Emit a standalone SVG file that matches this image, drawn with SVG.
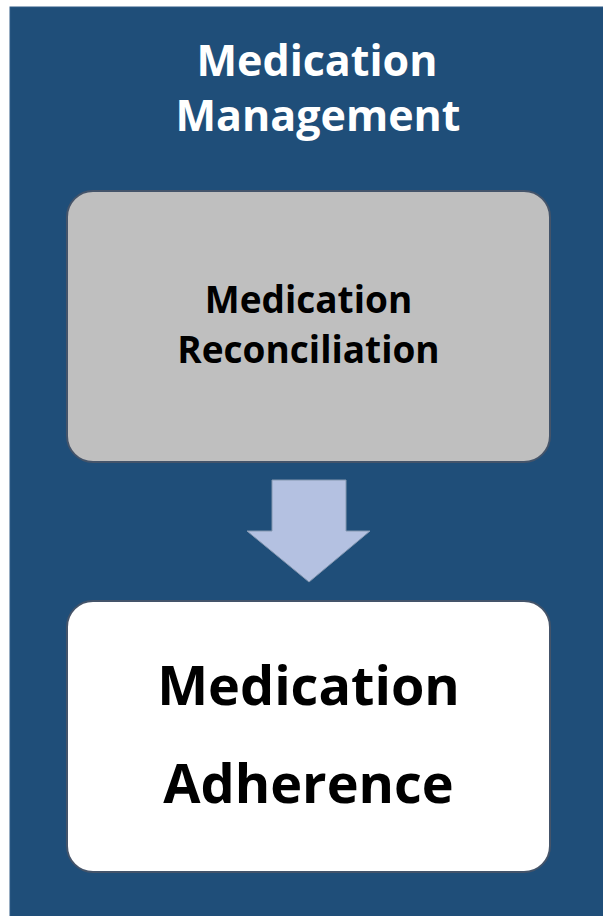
<svg xmlns="http://www.w3.org/2000/svg" width="603" height="916" viewBox="0 0 603 916">
<style>
.t{font-family:"Open Sans","Noto Sans","Liberation Sans",sans-serif;font-weight:bold;text-anchor:middle}
.box{stroke:#44546A;stroke-width:2}
</style>
<rect width="603" height="916" fill="#FFFFFF"/>
<g id="panel">
<rect x="10" y="7" width="600" height="920" fill="#1F4E79" stroke="#2F5A86" stroke-width="1"/>
<text class="t" x="317" y="76" font-size="43" fill="#FFFFFF">Medication</text>
<text class="t" x="318" y="131" font-size="43" fill="#FFFFFF">Management</text>
</g>
<g id="reconciliation">
<rect class="box" x="67" y="191" width="483" height="271" rx="26" fill="#BFBFBF"/>
<text class="t" x="308.5" y="313" font-size="37" fill="#000000">Medication</text>
<text class="t" x="308.5" y="363" font-size="37" fill="#000000">Reconciliation</text>
</g>
<g id="connectors">
<polygon points="272,480 346,480 346,531 370,531 309,582 247,531 272,531" fill="#B4C1E1" stroke="#8497B0" stroke-width="1"/>
</g>
<g id="adherence">
<rect class="box" x="67" y="601" width="483" height="271" rx="26" fill="#FFFFFF"/>
<text class="t" x="308.5" y="705" font-size="54" fill="#000000">Medication</text>
<text class="t" x="308.5" y="803" font-size="54" fill="#000000">Adherence</text>
</g>
</svg>
